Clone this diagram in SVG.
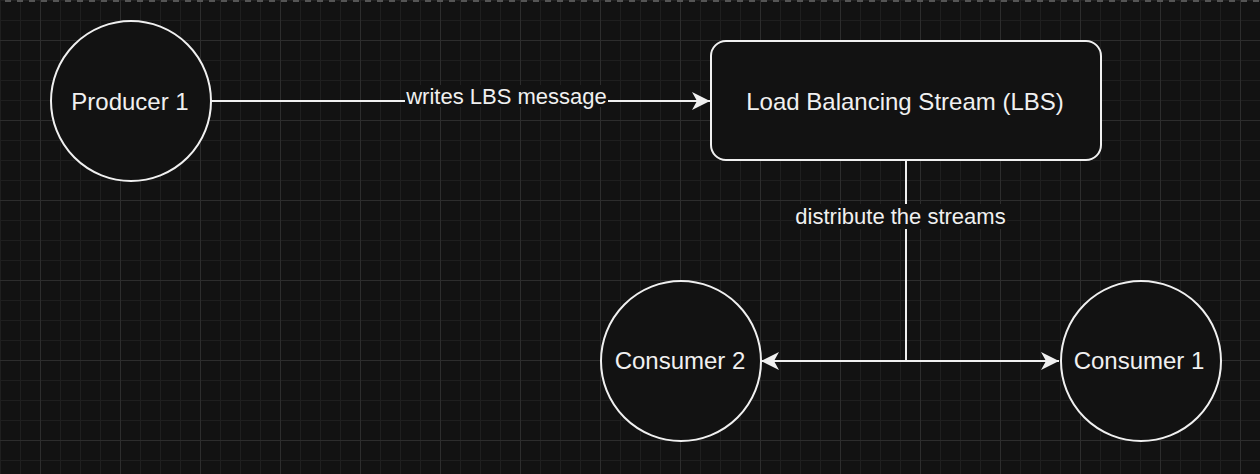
<svg xmlns="http://www.w3.org/2000/svg" width="1260" height="474" viewBox="0 0 1260 474">
  <style>
    .node { fill: #121212; stroke: #f0f0f0; stroke-width: 2; }
    .lbl { font-family: "Liberation Sans", Arial, Helvetica, sans-serif; font-size: 24px; fill: #f0f0f0; text-anchor: middle; }
    .elbl { font-family: "Liberation Sans", Arial, Helvetica, sans-serif; font-size: 22px; fill: #f0f0f0; text-anchor: middle; }
    .edge { fill: none; stroke: #f0f0f0; stroke-width: 2; }
    .lblbg { fill: #121212; }
  </style>
  <defs>
    <pattern id="grid" patternUnits="userSpaceOnUse" x="0" y="0" width="80" height="80">
      <rect width="80" height="80" fill="#121212"/>
      <path d="M0 0.5H80M0 20.5H80M0 60.5H80M0.5 0V80M20.5 0V80M60.5 0V80" stroke="#1f1f1f" stroke-width="1" fill="none"/>
      <path d="M0 40.5H80M40.5 0V80" stroke="#2d2d2d" stroke-width="1" fill="none"/>
    </pattern>
    <marker id="arrow" markerUnits="userSpaceOnUse" markerWidth="20" markerHeight="20" refX="18" refY="9" orient="auto" viewBox="0 0 20 20">
      <path d="M0,0 L18,9 L0,18 L5,9 Z" fill="#f0f0f0"/>
    </marker>
  </defs>

  <rect width="1260" height="474" fill="url(#grid)"/>
  <line x1="0" y1="1" x2="1260" y2="1" stroke="#555555" stroke-width="2" stroke-dasharray="6 6" stroke-dashoffset="7"/>

  <g id="connectors">
    <path class="edge" d="M211 101H710" marker-end="url(#arrow)"/>
    <path class="edge" d="M906 160V361H761" marker-end="url(#arrow)"/>
    <path class="edge" d="M906 160V361H1059" marker-end="url(#arrow)"/>
    <rect class="lblbg" x="405" y="85" width="203" height="22"/>
    <text class="elbl" x="506.5" y="103.5">writes LBS message</text>
    <rect class="lblbg" x="794" y="204" width="213" height="25"/>
    <text class="elbl" x="900.5" y="223.5">distribute the streams</text>
  </g>

  <g id="producer1">
    <circle class="node" cx="131" cy="101" r="80"/>
    <text class="lbl" x="130" y="109.5">Producer 1</text>
  </g>

  <g id="lbs">
    <rect class="node" x="711" y="41" width="390" height="119" rx="15" ry="15"/>
    <text class="lbl" x="905" y="109.5">Load Balancing Stream (LBS)</text>
  </g>

  <g id="consumer2">
    <circle class="node" cx="681" cy="361" r="80"/>
    <text class="lbl" x="680" y="369">Consumer 2</text>
  </g>

  <g id="consumer1">
    <circle class="node" cx="1141" cy="361" r="80"/>
    <text class="lbl" x="1139" y="369">Consumer 1</text>
  </g>
</svg>
